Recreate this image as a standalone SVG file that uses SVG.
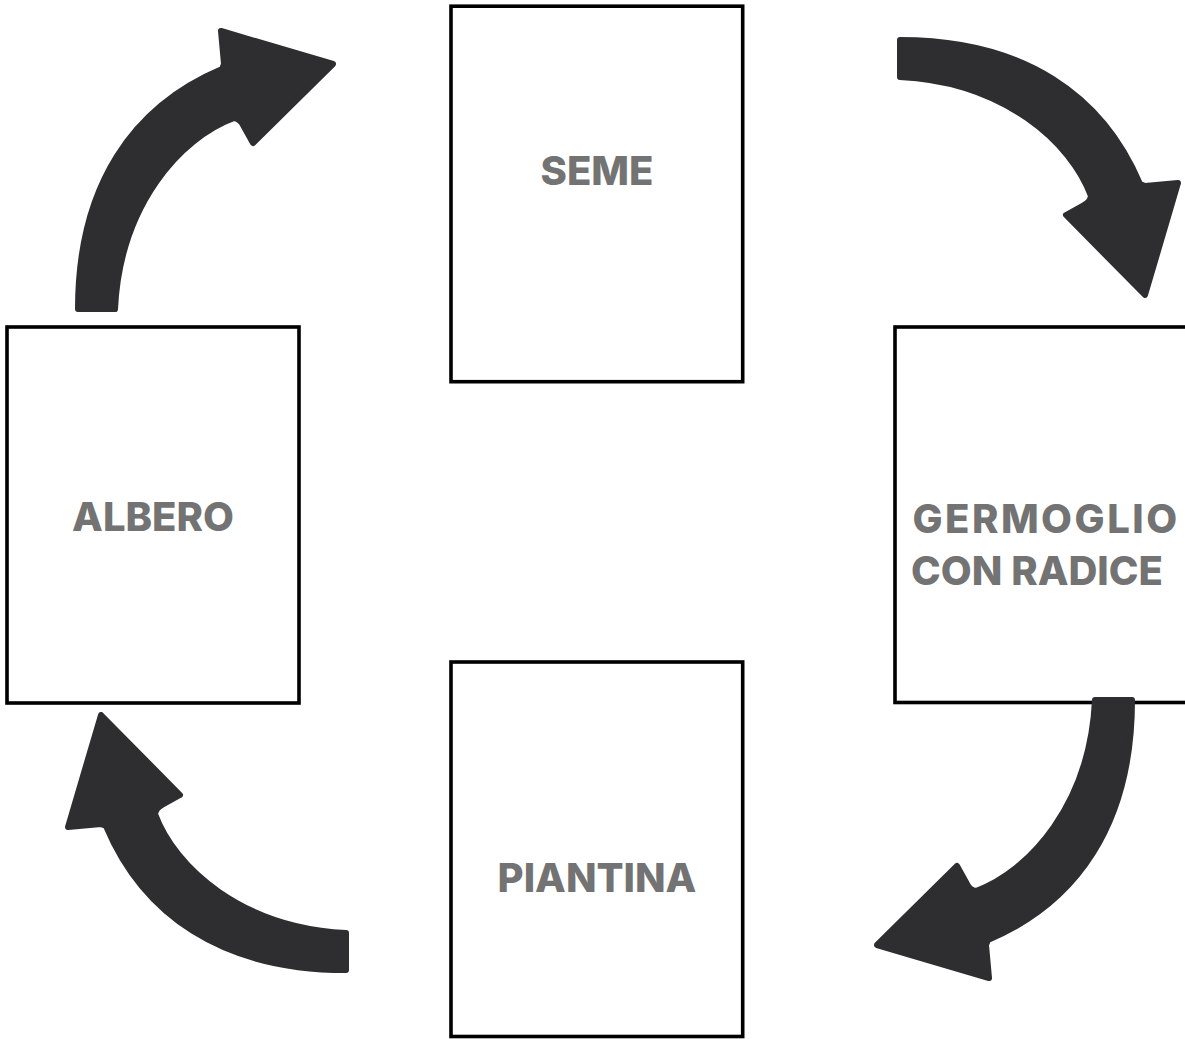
<svg xmlns="http://www.w3.org/2000/svg" xmlns:xlink="http://www.w3.org/1999/xlink" width="1185" height="1039" viewBox="0 0 1185 1039">
  <style>
    .box { fill: #ffffff; stroke: #000000; stroke-width: 3.6; }
    .lbl { font-family: Inter, "Liberation Sans", sans-serif; font-weight: 800; font-size: 40px; fill: #737373; text-anchor: middle; }
    .wide { letter-spacing: 2.5px; }
    .arr { fill: #2e2e30; stroke: #2e2e30; stroke-width: 6; stroke-linejoin: round; }
  </style>
  <defs>
    <path id="arrowShape" d="M 78 309 C 78 184 134 106 222 69 L 224 64 L 221 31 L 333 64 L 253 143 L 243 125 Q 240 119 234 118 C 180 138 120 205 115 309 Z"/>
  </defs>
  <rect width="1185" height="1039" fill="#ffffff"/>
  <g id="node-seme">
    <rect class="box" x="451" y="6.2" width="291.7" height="375.5"/>
    <text class="lbl" x="597" y="185">SEME</text>
  </g>
  <g id="node-germoglio">
    <rect class="box" x="895" y="327" width="292" height="375.5"/>
    <text class="lbl wide" x="1046" y="533">GERMOGLIO</text>
    <text class="lbl" x="1037" y="585">CON RADICE</text>
  </g>
  <g id="node-piantina">
    <rect class="box" x="451" y="662" width="291.7" height="374.5"/>
    <text class="lbl" x="597" y="892">PIANTINA</text>
  </g>
  <g id="node-albero">
    <rect class="box" x="7" y="327" width="292" height="376"/>
    <text class="lbl" x="153" y="531">ALBERO</text>
  </g>
  <g id="connectors">
    <use xlink:href="#arrowShape" href="#arrowShape" class="arr"/>
    <use xlink:href="#arrowShape" href="#arrowShape" class="arr" transform="translate(899,292) rotate(90) translate(-330,-310)"/>
    <use xlink:href="#arrowShape" href="#arrowShape" class="arr" transform="translate(880,699) rotate(180) translate(-330,-310)"/>
    <use xlink:href="#arrowShape" href="#arrowShape" class="arr" transform="translate(347,718) rotate(270) translate(-330,-310)"/>
  </g>
</svg>
